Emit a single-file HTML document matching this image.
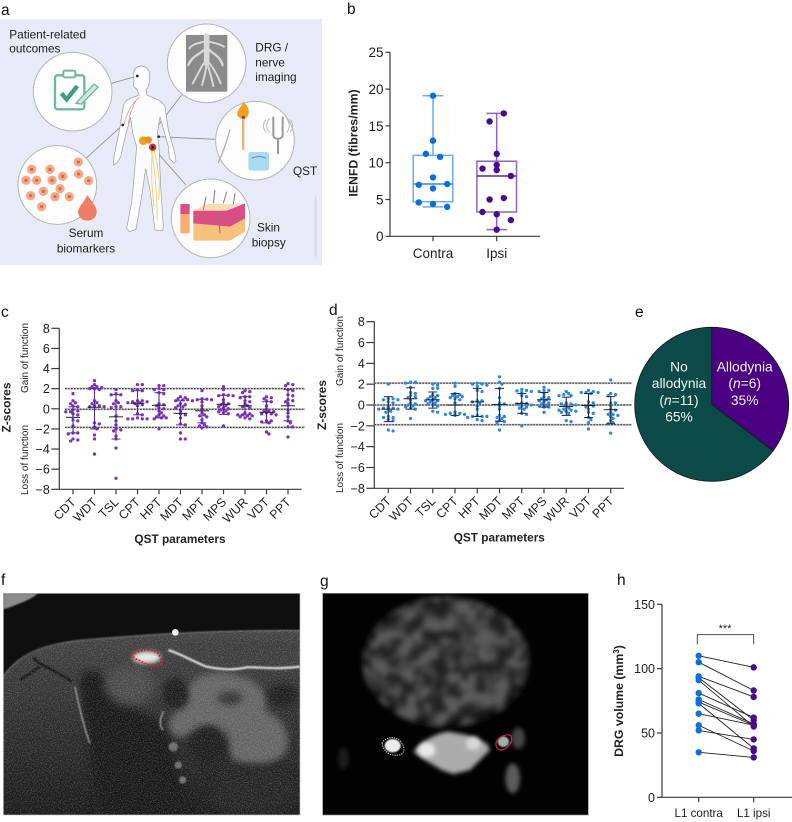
<!DOCTYPE html>
<html lang="en">
<head>
<meta charset="utf-8">
<title>Multi-panel figure: QST, IENFD and DRG volume</title>
<style>
html,body{margin:0;padding:0;background:#fff}
svg{display:block;font-family:"Liberation Sans",Arial,sans-serif}
</style>
</head>
<body>
<svg id="fig" width="792" height="822" viewBox="0 0 792 822" xmlns="http://www.w3.org/2000/svg">
<defs>
  <filter id="soft" x="-5%" y="-5%" width="110%" height="110%"><feGaussianBlur stdDeviation="1.1"/></filter>
  <filter id="b6" x="-30%" y="-30%" width="160%" height="160%"><feGaussianBlur stdDeviation="6"/></filter>
  <filter id="b10" x="-30%" y="-30%" width="160%" height="160%"><feGaussianBlur stdDeviation="10"/></filter>
  <filter id="b14" x="-40%" y="-40%" width="180%" height="180%"><feGaussianBlur stdDeviation="14"/></filter>
  <filter id="b2" x="-20%" y="-20%" width="140%" height="140%"><feGaussianBlur stdDeviation="2"/></filter>
  <filter id="grain" x="0" y="0" width="100%" height="100%">
    <feTurbulence type="fractalNoise" baseFrequency="0.3" numOctaves="2" seed="7"/>
    <feColorMatrix type="matrix" values="0 0 0 0 1  0 0 0 0 1  0 0 0 0 1  4 0 0 0 -1.8"/>
  </filter>
  <filter id="blotch" x="-10%" y="-10%" width="120%" height="120%">
    <feTurbulence type="fractalNoise" baseFrequency="0.022" numOctaves="3" seed="11" result="n"/>
    <feColorMatrix in="n" type="matrix" values="0 0 0 0 0  0 0 0 0 0  0 0 0 0 0  4 0 0 0 -1.5" result="a"/>
    <feComposite in="SourceGraphic" in2="a" operator="in"/>
    <feGaussianBlur stdDeviation="8"/>
  </filter>
  <linearGradient id="fshade" x1="0" y1="0" x2="0" y2="1">
    <stop offset="0" stop-color="#424242"/><stop offset="0.45" stop-color="#2e2e2e"/><stop offset="1" stop-color="#181818"/>
  </linearGradient>
  <clipPath id="fclip"><rect x="10" y="70" width="890" height="665"/></clipPath>
  <clipPath id="fbodyclip"><path d="M10 320C40 270 110 225 250 210C400 198 600 180 900 180V735H10Z"/></clipPath>
  <clipPath id="gclip"><rect x="38" y="70" width="797" height="665"/></clipPath>
</defs>

<!-- Panel letters -->
<text x="1" y="15" font-size="15.5" fill="#111">a</text>
<text x="347" y="14" font-size="15.5" fill="#111">b</text>
<text x="1" y="317" font-size="15.5" fill="#111">c</text>
<text x="329" y="315" font-size="15.5" fill="#111">d</text>
<text x="635" y="317" font-size="15.5" fill="#111">e</text>
<text x="1" y="585" font-size="15.5" fill="#111">f</text>
<text x="320" y="586" font-size="15.5" fill="#111">g</text>
<text x="617" y="585" font-size="15.5" fill="#111">h</text>

<!-- Panel a: illustration -->
<g>
  <rect x="0" y="19" width="322" height="246" fill="#e7ebf8"/>
  <g transform="scale(0.33333)" filter="url(#soft)">
    <g stroke="#8d8d8d" stroke-width="2.5" fill="none">
      <path d="M335 250L412 228M545 285L445 415M645 418L476 410M258 475L368 375M558 555L458 442"/>
    </g>
    <path d="M425 198C400 198 398 222 402 240L400 258L410 268L418 285C400 292 380 295 372 312C365 340 362 380 352 420L342 470L340 495L350 490L362 470L378 400L392 352L398 400L410 440L403 520L396 600L380 685L388 695L408 688L425 590L437 505L450 570L465 690L488 692L490 680L482 560L477 440L472 400L480 350L505 440L508 475L522 490L528 482L522 450L505 390L495 320C485 298 460 295 440 285L438 268C450 262 452 220 445 210C438 200 430 198 425 198Z" fill="#fbfcfd" stroke="#9a9a9a" stroke-width="2"/>
    <path d="M418 292C395 310 380 340 372 375M410 298C395 325 388 345 385 370" stroke="#d98f8a" stroke-width="2" fill="none"/>
    <path d="M450 440C465 490 470 580 472 660M458 450C452 500 455 560 462 620M462 450C478 510 480 560 476 600" stroke="#efd27e" stroke-width="3" fill="none"/>
    <circle cx="430" cy="422" r="13" fill="#f2a01f"/>
    <circle cx="445" cy="420" r="11" fill="#ec8f1c"/>
    <circle cx="458" cy="442" r="11" fill="#c8323a"/>
    <circle cx="458" cy="442" r="4" fill="#222"/>
    <circle cx="412" cy="228" r="4" fill="#222"/>
    <circle cx="368" cy="375" r="4" fill="#222"/>
    <circle cx="476" cy="410" r="4" fill="#222"/>

    <circle cx="218" cy="275" r="118" fill="#fdfdfd" stroke="#b5b5b5" stroke-width="3"/>
    <rect x="165" y="226" width="88" height="102" rx="8" fill="#fff" stroke="#6fb8a0" stroke-width="7"/>
    <rect x="190" y="212" width="36" height="20" rx="4" fill="#fff" stroke="#6fb8a0" stroke-width="6"/>
    <path d="M184 280L200 298L232 258" fill="none" stroke="#3f9e80" stroke-width="13"/>
    <path d="M232 305L282 252L294 262L244 312L228 310Z" fill="#cfe8dd" stroke="#6fb8a0" stroke-width="4"/>

    <circle cx="620" cy="190" r="118" fill="#fdfdfd" stroke="#b5b5b5" stroke-width="3"/>
    <rect x="558" y="105" width="124" height="170" fill="#8b8b8b"/>
    <g stroke="#d8d8d8" fill="none" stroke-linecap="round">
      <path d="M620 108L620 190" stroke-width="17"/>
      <path d="M612 125C595 130 580 130 568 145M628 125C645 130 655 130 672 140" stroke-width="6"/>
      <path d="M612 150C595 165 575 170 565 195M628 150C645 165 660 170 668 195" stroke-width="7"/>
      <path d="M615 185C600 205 590 230 578 250M625 185C640 205 655 230 662 250M620 190C618 215 612 235 606 255M622 192C630 215 636 240 640 258" stroke-width="6"/>
    </g>

    <circle cx="765" cy="422" r="118" fill="#fdfdfd" stroke="#b5b5b5" stroke-width="3"/>
    <path d="M730 305C745 320 752 335 742 350C735 360 722 358 715 350C705 335 722 325 730 305Z" fill="#f2a01f"/>
    <rect x="726" y="350" width="7" height="100" fill="#e0b47c"/>
    <circle cx="730" cy="352" r="5" fill="#c8323a"/>
    <path d="M820 350V405C820 420 848 420 848 405V350M834 415V462" fill="none" stroke="#9a9a9a" stroke-width="6"/>
    <path d="M808 355C798 370 798 385 808 398M798 358C788 370 788 385 798 396M860 355C870 370 870 385 860 398M870 358C880 370 880 385 870 396" fill="none" stroke="#bbb" stroke-width="3"/>
    <rect x="745" y="456" width="62" height="56" rx="8" fill="#a9dcf2"/>
    <path d="M755 475C770 468 785 468 798 475" stroke="#5b93ae" stroke-width="3" fill="none"/>
    <path d="M690 388C680 425 668 460 655 488" stroke="#b0b0b0" stroke-width="4" fill="none"/>

    <circle cx="172" cy="555" r="118" fill="#fdfdfd" stroke="#b5b5b5" stroke-width="3"/>
    <g fill="#f5a98c">
      <circle cx="235" cy="486" r="14"/><circle cx="95" cy="508" r="14"/><circle cx="150" cy="508" r="14"/><circle cx="188" cy="529" r="14"/><circle cx="236" cy="522" r="14"/><circle cx="78" cy="541" r="14"/><circle cx="110" cy="541" r="14"/><circle cx="156" cy="541" r="14"/><circle cx="266" cy="542" r="14"/><circle cx="180" cy="566" r="14"/><circle cx="130" cy="574" r="14"/><circle cx="92" cy="587" r="14"/><circle cx="165" cy="590" r="14"/><circle cx="208" cy="590" r="14"/><circle cx="125" cy="620" r="14"/>
    </g>
    <g fill="#e0693f">
      <circle cx="235" cy="486" r="5"/><circle cx="95" cy="508" r="5"/><circle cx="150" cy="508" r="5"/><circle cx="188" cy="529" r="5"/><circle cx="236" cy="522" r="5"/><circle cx="78" cy="541" r="5"/><circle cx="110" cy="541" r="5"/><circle cx="156" cy="541" r="5"/><circle cx="266" cy="542" r="5"/><circle cx="180" cy="566" r="5"/><circle cx="130" cy="574" r="5"/><circle cx="92" cy="587" r="5"/><circle cx="165" cy="590" r="5"/><circle cx="208" cy="590" r="5"/><circle cx="125" cy="620" r="5"/>
    </g>
    <path d="M262 585C278 610 292 622 290 638C288 655 275 662 262 662C248 662 235 652 234 637C234 622 250 610 262 585Z" fill="#ef7f63"/>

    <circle cx="632" cy="655" r="118" fill="#fdfdfd" stroke="#b5b5b5" stroke-width="3"/>
    <path d="M580 640L735 625V695L690 722H580Z" fill="#f8c27e"/>
    <path d="M580 632L680 632L735 610V655L690 680L580 670Z" fill="#d94f83"/>
    <path d="M580 632L620 612L720 612L680 632Z" fill="#f8dcb6"/>
    <path d="M610 630L618 590M640 610L645 570M670 610L680 575M700 612L705 580M655 640L660 700" stroke="#a06a88" stroke-width="3" fill="none"/>
    <rect x="541" y="612" width="28" height="30" fill="#d94f83"/>
    <rect x="541" y="642" width="28" height="58" fill="#f8b070"/>
    <rect x="944" y="590" width="6" height="180" fill="#d6dae8"/>
  </g>
  <g font-size="11.8" fill="#1d1d1d">
    <text x="9.3" y="38.3">Patient-related</text>
    <text x="9.3" y="52.3">outcomes</text>
    <text x="255.3" y="51.7">DRG /</text>
    <text x="255.3" y="66.7">nerve</text>
    <text x="255.3" y="81">imaging</text>
    <text x="293" y="175">QST</text>
    <text x="257" y="231.7">Skin</text>
    <text x="251.7" y="246.7">biopsy</text>
    <text x="86" y="237" text-anchor="middle">Serum</text>
    <text x="86" y="252.3" text-anchor="middle">biomarkers</text>
  </g>
</g>

<!-- Panel f: MRI -->
<g transform="translate(0,570) scale(0.33333)">
  <g clip-path="url(#fclip)">
    <rect x="10" y="70" width="890" height="665" fill="#0f0f0f"/>
    <path d="M10 320C40 270 110 225 250 210C400 198 600 180 900 180V735H10Z" fill="url(#fshade)"/>
    <path d="M240 330C250 290 300 290 320 340C340 400 430 420 500 470L580 735H290C280 600 250 450 240 330Z" fill="#191919" filter="url(#b10)"/>
    <path d="M570 345C600 300 680 300 720 320C780 330 810 380 795 425C840 440 875 480 860 540C840 585 760 590 700 570C680 530 660 500 630 470C590 480 550 520 515 490C495 460 515 425 560 410C575 390 560 370 570 345Z" fill="#626262" filter="url(#b10)"/>
    <ellipse cx="625" cy="525" rx="62" ry="58" fill="#1c1c1c" filter="url(#b10)"/>
    <ellipse cx="690" cy="385" rx="38" ry="20" fill="#333" filter="url(#b10)"/>
    <ellipse cx="760" cy="670" rx="130" ry="70" fill="#242424" filter="url(#b14)"/>
    <ellipse cx="390" cy="345" rx="75" ry="60" fill="#4a4a4a" filter="url(#b14)"/>
    <ellipse cx="525" cy="368" rx="36" ry="46" fill="#1e1e1e" filter="url(#b6)"/>
    <ellipse cx="850" cy="375" rx="48" ry="34" fill="#1e1e1e" filter="url(#b10)"/>
    <path d="M530 215H900V285L740 290L640 285L560 250Z" fill="#3a3a3a" filter="url(#b2)"/>
    <path d="M505 240C550 255 580 275 620 290C670 300 700 300 740 292C780 290 820 300 900 290" fill="none" stroke="#d5d5d5" stroke-width="7" filter="url(#b2)"/>
    <path d="M10 320C50 260 110 225 250 210C400 198 600 180 900 182" fill="none" stroke="#5c5c5c" stroke-width="5" filter="url(#b2)"/>
    <path d="M100 262C120 290 170 300 215 335M60 330L120 290" fill="none" stroke="#101010" stroke-width="7" filter="url(#b2)"/>
    <path d="M225 350C235 400 250 470 270 520M490 425C478 450 478 470 490 480" fill="none" stroke="#8f8f8f" stroke-width="5" filter="url(#b2)"/>
    <path d="M10 70H115C90 90 50 105 10 118Z" fill="#8c8c8c" filter="url(#b2)"/>
    <ellipse cx="440" cy="262" rx="42" ry="18" fill="#e5e5e5" filter="url(#b6)"/>
    <circle cx="526" cy="187" r="10" fill="#f2f2f2"/>
    <g fill="#6a6a6a" filter="url(#b2)"><circle cx="520" cy="530" r="14"/><circle cx="535" cy="585" r="11"/><circle cx="548" cy="630" r="11"/></g>
    <g clip-path="url(#fbodyclip)">
      <rect x="10" y="180" width="890" height="555" filter="url(#grain)" opacity="0.2"/>
    </g>
    <path d="M395 255C420 240 450 235 472 248C482 262 488 275 486 285C470 292 440 285 420 272C408 268 400 262 395 255Z" fill="none" stroke="#e8141e" stroke-width="5" stroke-dasharray="5 5"/>
  </g>
  <rect x="10" y="70" width="890" height="665" fill="none" stroke="#c0c0c0" stroke-width="2"/>
</g>

<!-- Panel g: MRI -->
<g transform="translate(310,570) scale(0.33333)">
  <g clip-path="url(#gclip)">
    <rect x="38" y="70" width="797" height="665" fill="#020202"/>
    <ellipse cx="408" cy="275" rx="240" ry="185" fill="#242424" filter="url(#b14)"/>
    <ellipse cx="408" cy="275" rx="250" ry="195" fill="#5c5c5c" filter="url(#blotch)"/>
    <path d="M310 545C340 510 380 490 415 485L470 495L530 520L540 540L480 600L430 612L395 600L345 570Z" fill="#acacac" filter="url(#b6)"/>
    <ellipse cx="350" cy="540" rx="26" ry="22" fill="#e8e8e8" filter="url(#b6)"/>
    <ellipse cx="490" cy="520" rx="22" ry="20" fill="#d8d8d8" filter="url(#b6)"/>
    <ellipse cx="248" cy="527" rx="24" ry="20" fill="#ececec" filter="url(#b2)"/>
    <ellipse cx="580" cy="515" rx="17" ry="16" fill="#9fb0ab" filter="url(#b2)"/>
    <ellipse cx="625" cy="505" rx="20" ry="32" fill="#444" filter="url(#b6)"/>
    <ellipse cx="608" cy="625" rx="22" ry="45" fill="#5c5c5c" filter="url(#b6)"/>
    <ellipse cx="100" cy="565" rx="16" ry="34" fill="#1c1c1c" filter="url(#b6)"/>
    <path d="M216 520C225 500 255 498 270 512C282 525 288 545 272 554C250 560 222 552 216 520Z" fill="none" stroke="#cfcfcf" stroke-width="3" stroke-dasharray="4 3"/>
    <path d="M558 518C565 502 590 488 603 498C610 510 598 535 575 540C562 540 556 530 558 518Z" fill="none" stroke="#d02838" stroke-width="3.5"/>
  </g>
  <rect x="38" y="70" width="797" height="665" fill="none" stroke="#8d8d8d" stroke-width="2"/>
</g>

<!-- Chart groups, filled by script -->
<g id="panel-b"></g>
<g id="panel-c"></g>
<g id="panel-d"></g>
<g id="panel-e"></g>
<g id="pie-labels" font-size="13.8" fill="#f2f2f2" text-anchor="middle">
  <text x="744.7" y="371.5">Allodynia</text>
  <text x="744.7" y="388.2">(<tspan font-style="italic">n</tspan>=6)</text>
  <text x="744.7" y="405">35%</text>
  <text x="679" y="371.5">No</text>
  <text x="679" y="388.2">allodynia</text>
  <text x="679" y="405">(<tspan font-style="italic">n</tspan>=11)</text>
  <text x="679" y="421.7">65%</text>
</g>
<g id="panel-h"></g>
</svg>

<script>
// ---------- Panel b ----------
const bTicks = [0, 5, 10, 15, 20, 25];
const bCategories = ['Contra', 'Ipsi'];
const contraValues = [19.1, 13, 11.2, 10.8, 8, 7, 7.1, 6.5, 4.6, 4.4, 4];
const contraSlots = [0, 0, -1, 1, 0, -2, 2, 0, -2, 0, 2];
const ipsiValues = [16.7, 15.6, 11.2, 9.7, 9.2, 9, 8.2, 5, 5.2, 3.3, 3, 2.2, 0.9];
const ipsiSlots = [1, -1, 0, 0, -2, 0, 2, -1, 1, -2, 0, 2, 0];
const contraBox = [4, 4.7, 7.1, 11, 19.1];
const ipsiBox = [0.9, 3.3, 8.2, 10.2, 16.7];

// ---------- Panels c / d ----------
const qstCategories = ['CDT', 'WDT', 'TSL', 'CPT', 'HPT', 'MDT', 'MPT', 'MPS', 'WUR', 'VDT', 'PPT'];
const zTicks = [-8, -6, -4, -2, 0, 2, 4, 6, 8];
const cRefLevels = [2, -0.05, -1.85];
const dRefLevels = [2.1, 0, -1.9];
const cMeans = [-0.85, 0.15, -0.8, 0.55, 0.35, -0.45, -0.2, 0.45, 0.3, -0.35, 0.3];
const cLower = [-2.4, -2, -3, -0.6, -0.9, -1.6, -1.4, -0.55, -0.6, -1.4, -1.2];
const cUpper = [0.2, 2, 1.4, 1.8, 1.6, 0.8, 0.95, 1.35, 1.2, 0.7, 1.9];
const cCDT = [1.5, .8, .6, .5, .3, .2, -.1, -.2, -.3, -.3, -.5, -.6, -1.1, -1.2, -1.7, -2.4, -2.4, -2.5, -3, -3.1, -3.2];
const cWDT = [2.8, 2.4, 2.2, 2.2, 2.1, 2, 2, 1.9, .8, .6, .5, .3, .3, .2, .2, -1.4, -1.5, -1.8, -2, -2.6, -3, -4.5];
const cTSL = [1.9, 1.5, 1.4, 1.4, .8, .6, .5, .2, .2, .1, -.7, -1.2, -1.6, -2, -2.1, -2.2, -2.7, -3, -3.9, -6.9];
const cCPT = [2.4, 2.4, 1.9, 1.8, 1.8, .8, .8, .7, .7, .6, .6, .5, .4, .3, -.5, -.6, -.9, -1, -1, -1, -1];
const cHPT = [2.3, 2.3, 2, 1.9, 1.9, 1.6, 1.5, .5, .4, .3, .1, 0, -.2, -.4, -.6, -.7, -.8, -.9, -.9, -1, -2];
const cMDT = [1.2, 1.1, 1, .9, .9, .8, .5, .4, .3, .2, .1, -.2, -.5, -.6, -.9, -1.5, -1.6, -2.4, -3, -3];
const cMPT = [1.8, 1, .95, .9, .9, .8, .7, .3, 0, -.4, -.6, -.7, -.8, -1.1, -1.4, -1.6, -1.7, -1.8, -1.9];
const cMPS = [2.2, 1.9, 1.4, 1.35, 1.3, 1.3, .9, .6, .5, .4, .3, .2, .1, 0, -.1, -.2, -.3, -.4, -.5, -1.7];
const cWUR = [1.8, 1.7, 1.6, 1.2, 1.2, 1.1, .8, .7, .5, .3, .2, .1, -.4, -.5, -.6, -.6, -.7, -.7, -.8, -.9, -1];
const cVDT = [1.2, 1.1, 1, .8, .7, .3, 0, -.2, -.2, -.3, -.4, -.5, -.5, -.6, -1.2, -1.2, -1.3, -1.4, -2.3, -2.5];
const cPPT = [2.5, 2.4, 2.3, 1.9, 1.8, 1.4, 1.3, .9, .8, .7, .5, -.1, -.4, -.8, -1.2, -1.4, -1.8, -1.8, -2.8];
const dMeans = [-0.4, 0.6, 0.5, 0, 0.3, 0.05, 0.15, 0.5, -0.15, -0.05, -0.45];
const dLower = [-1.6, -0.4, -0.3, -1, -1.1, -1.55, -0.8, -0.2, -1, -1.2, -1.8];
const dUpper = [0.8, 1.65, 1.25, 1.1, 1.6, 1.6, 1.1, 1.2, 0.75, 1.1, 0.8];
const dCDT = [2, .6, .6, .5, .5, .3, .2, -.2, -.3, -.3, -.4, -.4, -.4, -.6, -.7, -1.1, -1.2, -1.2, -1.4, -1.5, -2.4, -2.5];
const dWDT = [2.2, 2.2, 2.1, 1.7, 1.2, 1.1, .9, .8, .7, .5, .2, .1, 0, -.1, -.2, -.3, -.4, -1.3];
const dTSL = [2, 1.9, 1.6, 1.6, 1, .9, .8, .7, .6, .5, .4, .4, .3, .2, .1, 0, -.1, -.6, -.7];
const dCPT = [2.1, 1.8, 1.1, 1, .9, .8, .8, .7, .6, .5, .2, -.7, -.8, -.8, -.9, -.9, -1, -1, -1];
const dHPT = [2.1, 2, 2, 1.9, 1.8, 1.4, 1.3, .4, .4, .3, .2, -.1, -.4, -1, -1.1, -1.1, -1.1, -1.2, -1.4, -1.5];
const dMDT = [2.7, 2.2, 2, 1.6, .7, .2, .1, -.1, -.4, -1, -1.1, -1.2, -1.3, -1.5, -1.6, -1.7, -2.4];
const dMPT = [1.5, 1.4, 1.35, 1.3, 1.2, .9, .8, .2, .15, .1, 0, -.1, -.2, -.3, -.4, -.8, -.9, -2];
const dMPS = [1.7, 1.4, 1.4, 1.3, 1.1, .8, .7, .6, .5, .4, .3, .2, .1, 0, -.1, -.2, -.2, -.7];
const dWUR = [1.3, 1.1, 1, .9, .9, .2, .1, .1, 0, -.1, -.3, -.4, -.5, -.5, -.6, -.6, -.7, -.8, -1.5, -1.6];
const dVDT = [1.4, 1.3, 1.2, 1.2, 1.2, 1.1, .3, .2, 0, -.1, -.2, -.4, -.7, -.8, -1.2, -1.4, -1.7, -2.3];
const dPPT = [2.4, 1.1, 1, .9, .2, .2, -.1, -.4, -.5, -.7, -.9, -.9, -1, -1.1, -1.3, -1.5, -1.7, -1.8, -2.7];

// ---------- Panel e ----------
const pieValues = [6, 11];

// ---------- Panel h ----------
const hTicks = [0, 50, 100, 150];
const hCategories = ['L1 contra', 'L1 ipsi'];
const hContra = [110, 105, 94, 93, 91, 81, 76, 74, 73, 65, 56, 52, 35];
const hIpsi = [101, 83, 78, 60, 55, 62, 57, 56, 38, 56, 36, 45, 31];

const NS = 'http://www.w3.org/2000/svg';
function draw(parent, tag, attrs, text) {
  const node = document.createElementNS(NS, tag);
  for (const k in attrs) node.setAttribute(k, attrs[k]);
  if (text !== undefined) node.textContent = text;
  parent.appendChild(node);
  return node;
}
function linear(d0, d1, r0, r1) {
  return v => r0 + (v - d0) * (r1 - r0) / (d1 - d0);
}
function minusText(v) {
  return v < 0 ? '\u2212' + Math.abs(v) : String(v);
}

function yAxis(g, x, scale, ticks, tickLen, fontSize, gap) {
  const axis = draw(g, 'line', {x1: x, x2: x, y1: scale(ticks[0]), y2: scale(ticks[ticks.length - 1]), stroke: '#3a3a3a', 'stroke-width': 1.2});
  
  
  ticks.forEach(t => {
    const tick = draw(g, 'line', {x1: x - tickLen, x2: x, y1: scale(t), y2: scale(t), stroke: '#3a3a3a', 'stroke-width': 1.2});
    
    
    const label = draw(g, 'text', {x: x - tickLen - gap, y: scale(t) + fontSize * 0.36, 'text-anchor': 'end', 'font-size': fontSize, fill: '#1d1d1d'}, minusText(t));
    
    
  });
}
function xAxisLine(g, x0, x1, y) {
  const axis = draw(g, 'line', {x1: x0, x2: x1, y1: y, y2: y, stroke: '#3a3a3a', 'stroke-width': 1.2});
  
  
}
function xTick(g, x, y, len) {
  const tick = draw(g, 'line', {x1: x, x2: x, y1: y, y2: y + len, stroke: '#3a3a3a', 'stroke-width': 1.2});
  
  
}
function rotatedTitle(g, text, x, y, size, weight, name) {
  const t = draw(g, 'text', {x: x, y: y, 'text-anchor': 'middle', 'font-size': size, 'font-weight': weight, fill: '#222', transform: 'rotate(-90 ' + x + ' ' + y + ')'}, text);
  
  
}

// Beeswarm: place each value at the nearest horizontal offset clear of neighbours
function swarm(values, spacing, minDist) {
  const placed = [];
  values.forEach(py => {
    let chosen = 0;
    for (let step = 0; step < 10; step++) {
      const off = (step % 2 ? 1 : -1) * Math.ceil(step / 2) * spacing;
      if (placed.every(p => Math.hypot(p.off - off, p.py - py) >= minDist)) {
        chosen = off;
        break;
      }
    }
    placed.push({off: chosen, py: py});
  });
  return placed;
}

// ---------- Draw panel b ----------
(function () {
  const g = document.getElementById('panel-b');
  const y = linear(0, 25, 236.3, 52.3);
  const xPos = linear(0, 1, 433, 496.7);
  const slotPx = 7.1;
  const halfBox = 19.8;
  const halfCap = 10.3;
  yAxis(g, 390, y, bTicks, 4.5, 13.5, 2);
  xAxisLine(g, 390, 540, y(0));
  bCategories.forEach((c, i) => {
    xTick(g, xPos(i), y(0), 5);
    const label = draw(g, 'text', {x: xPos(i), y: 258, 'text-anchor': 'middle', 'font-size': 13.5, fill: '#1d1d1d'}, c);
    
    
  });
  rotatedTitle(g, 'IENFD (fibres/mm)', 357.5, 143, 12.3, 'bold', 'y-axis-title');
  const groups = [
    {box: contraBox, vals: contraValues, slots: contraSlots, line: '#66aeec', dot: '#0a6fdc', mid: '#2f86e0', name: 'contra'},
    {box: ipsiBox, vals: ipsiValues, slots: ipsiSlots, line: '#9065c2', dot: '#4a0a8e', mid: '#5a23a0', name: 'ipsi'}
  ];
  groups.forEach((s, i) => {
    const cx = xPos(i);
    const whisker = draw(g, 'path', {d: 'M' + cx + ' ' + y(s.box[0]) + 'V' + y(s.box[1]) + 'M' + cx + ' ' + y(s.box[3]) + 'V' + y(s.box[4]) + 'M' + (cx - halfCap) + ' ' + y(s.box[0]) + 'H' + (cx + halfCap) + 'M' + (cx - halfCap) + ' ' + y(s.box[4]) + 'H' + (cx + halfCap), stroke: s.line, 'stroke-width': 1.5, fill: 'none'});
    
    
    const box = draw(g, 'rect', {x: cx - halfBox, y: y(s.box[3]), width: halfBox * 2, height: y(s.box[1]) - y(s.box[3]), fill: 'none', stroke: s.line, 'stroke-width': 1.5});
    
    
    const med = draw(g, 'line', {x1: cx - halfBox, x2: cx + halfBox, y1: y(s.box[2]), y2: y(s.box[2]), stroke: s.mid, 'stroke-width': 1.5});
    
    
    s.vals.forEach((v, j) => {
      const dot = draw(g, 'circle', {cx: cx + s.slots[j] * slotPx, cy: y(v), r: 3.2, fill: s.dot});
      
      
    });
  });
})();

// ---------- Draw panels c, d ----------
function qstPanel(cfg) {
  const g = document.getElementById(cfg.id);
  const y = linear(-8, 8, cfg.yBottom, cfg.yTop);
  const x = linear(0, qstCategories.length - 1, cfg.xFirst, cfg.xLast);
  yAxis(g, cfg.axisX, y, zTicks, 8, 12.5, 1.5);
  xAxisLine(g, cfg.axisX, cfg.axisEnd, y(-8));
  cfg.refs.forEach(r => {
    const under = draw(g, 'line', {x1: cfg.refX0, x2: cfg.refX1, y1: y(r), y2: y(r), stroke: '#bdbdbd', 'stroke-width': 2});
    
    
    const line = draw(g, 'line', {x1: cfg.refX0, x2: cfg.refX1, y1: y(r), y2: y(r), stroke: '#2a2a2a', 'stroke-width': 1, 'stroke-dasharray': '1.6 1.4'});
    
    
  });
  qstCategories.forEach((c, i) => {
    xTick(g, x(i), y(-8), 5);
    const ex = x(i) + 3.5;
    const ey = y(-8) + 13.5;
    const label = draw(g, 'text', {x: ex, y: ey, 'text-anchor': 'end', 'font-size': 12.3, fill: '#1d1d1d', transform: 'rotate(-45 ' + ex + ' ' + ey + ')'}, c);
    
    
    const pts = swarm(cfg.series[i].map(y), 2.4, 2.9);
    pts.forEach(p => {
      const dot = draw(g, 'circle', {cx: x(i) + p.off, cy: p.py, r: 1.65, fill: cfg.dot});
      
      
    });
    const bar = draw(g, 'line', {x1: x(i), x2: x(i), y1: y(cfg.lower[i]), y2: y(cfg.upper[i]), stroke: cfg.bar, 'stroke-width': 1.1});
    
    
    [cfg.lower[i], cfg.upper[i]].forEach(v => {
      const cap = draw(g, 'line', {x1: x(i) - 4.5, x2: x(i) + 4.5, y1: y(v), y2: y(v), stroke: cfg.bar, 'stroke-width': 1});
      
      
    });
    const mean = draw(g, 'line', {x1: x(i) - 7, x2: x(i) + 7, y1: y(cfg.means[i]), y2: y(cfg.means[i]), stroke: '#222', 'stroke-width': 1});
    
    
  });
  rotatedTitle(g, 'Z-scores', cfg.zX, cfg.zY, 12, 'bold', 'y-axis-title');
  rotatedTitle(g, 'Gain of function', cfg.sideX, cfg.gainY, 10, 'normal', 'gain-of-function-label');
  rotatedTitle(g, 'Loss of function', cfg.sideX, cfg.lossY, 10, 'normal', 'loss-of-function-label');
  const title = draw(g, 'text', {x: cfg.titleX, y: cfg.titleY, 'text-anchor': 'middle', 'font-size': 11.8, 'font-weight': 'bold', fill: '#222'}, 'QST parameters');
  
  
}
qstPanel({
  id: 'panel-c', yTop: 328.3, yBottom: 489.3, xFirst: 73, xLast: 288, axisX: 59.3, axisEnd: 301.7,
  refs: cRefLevels, refX0: 65, refX1: 305, dot: '#7a35b8', bar: '#5a2aa0',
  means: cMeans, lower: cLower, upper: cUpper,
  series: [cCDT, cWDT, cTSL, cCPT, cHPT, cMDT, cMPT, cMPS, cWUR, cVDT, cPPT],
  zX: 10.5, zY: 407.5, sideX: 28, gainY: 358, lossY: 460, titleX: 180, titleY: 543
});
qstPanel({
  id: 'panel-d', yTop: 321.7, yBottom: 488.3, xFirst: 388.3, xLast: 610.7, axisX: 374.3, axisEnd: 624,
  refs: dRefLevels, refX0: 374.3, refX1: 632, dot: '#2f86e0', bar: '#1a2a44',
  means: dMeans, lower: dLower, upper: dUpper,
  series: [dCDT, dWDT, dTSL, dCPT, dHPT, dMDT, dMPT, dMPS, dWUR, dVDT, dPPT],
  zX: 326, zY: 405, sideX: 343, gainY: 351, lossY: 458, titleX: 499.3, titleY: 541.7
});

// ---------- Draw panel e ----------
(function () {
  const g = document.getElementById('panel-e');
  const cx = 711.7, cy = 404.3, r = 77;
  const total = pieValues.reduce((a, b) => a + b, 0);
  const colours = ['#4b0082', '#0b4a49'];
  const names = ['pie-slice-allodynia', 'pie-slice-no-allodynia'];
  let start = 0;
  pieValues.forEach((v, i) => {
    const end = start + v / total * 2 * Math.PI;
    const large = end - start > Math.PI ? 1 : 0;
    const sx = cx + r * Math.sin(start), sy = cy - r * Math.cos(start);
    const ex = cx + r * Math.sin(end), ey = cy - r * Math.cos(end);
    const slice = draw(g, 'path', {d: 'M' + cx + ' ' + cy + 'L' + sx + ' ' + sy + 'A' + r + ' ' + r + ' 0 ' + large + ' 1 ' + ex + ' ' + ey + 'Z', fill: colours[i], stroke: '#0a1a1a', 'stroke-width': 0.8});
    
    
    start = end;
  });
})();

// ---------- Draw panel h ----------
(function () {
  const g = document.getElementById('panel-h');
  const y = linear(0, 150, 797.3, 604.3);
  const xPos = linear(0, 1, 698.7, 753.7);
  yAxis(g, 662, y, hTicks, 5, 12.5, 2);
  xAxisLine(g, 662, 792, y(0));
  hCategories.forEach((c, i) => {
    xTick(g, xPos(i), y(0), 5);
    const label = draw(g, 'text', {x: xPos(i), y: 817, 'text-anchor': 'middle', 'font-size': 11.6, fill: '#1d1d1d'}, c);
    
    
  });
  const yTitle = draw(g, 'text', {x: 623, y: 701, 'text-anchor': 'middle', 'font-size': 12.3, 'font-weight': 'bold', fill: '#222', transform: 'rotate(-90 623 701)'});
  
  
  draw(yTitle, 'tspan', {}, 'DRG volume (mm');
  draw(yTitle, 'tspan', {'font-size': 8, dy: -4}, '3');
  draw(yTitle, 'tspan', {dy: 4}, ')');
  hContra.forEach((v, i) => {
    const link = draw(g, 'line', {x1: xPos(0), x2: xPos(1), y1: y(v), y2: y(hIpsi[i]), stroke: '#222', 'stroke-width': 0.9});
    
    
  });
  hContra.forEach(v => {
    const dot = draw(g, 'circle', {cx: xPos(0), cy: y(v), r: 3.2, fill: '#0a6fdc'});
    
    
  });
  hIpsi.forEach(v => {
    const dot = draw(g, 'circle', {cx: xPos(1), cy: y(v), r: 3.2, fill: '#4a0a8e'});
    
    
  });
  const bracket = draw(g, 'path', {d: 'M697.3 644.3V634.7H753.7V644.3', fill: 'none', stroke: '#333', 'stroke-width': 0.9});
  
  
  const stars = draw(g, 'text', {x: 725, y: 632, 'text-anchor': 'middle', 'font-size': 11, fill: '#222'}, '***');
  
  
})();
</script>
</body>
</html>
